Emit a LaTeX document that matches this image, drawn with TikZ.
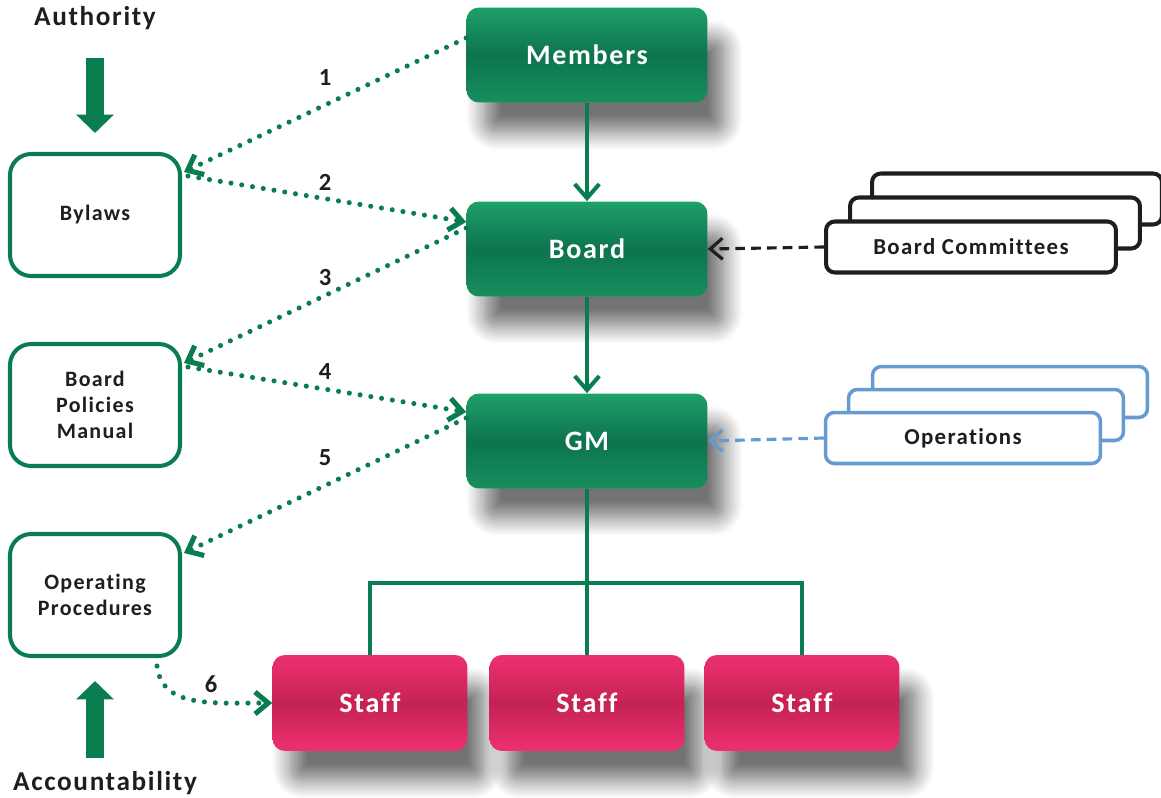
\documentclass[tikz,border=0pt]{standalone}
\usepackage{fontspec}
\setmainfont{Carlito}
\newfontfamily\spacedfont[LetterSpace=6, Ligatures=NoCommon]{Carlito}
\usetikzlibrary{arrows.meta, positioning, calc, shadows.blur}

\definecolor{darkgreen}{RGB}{10,125,80}
\definecolor{greentop}{RGB}{30,160,104}
\definecolor{greenmid}{RGB}{13,116,78}
\definecolor{pinktop}{RGB}{238,48,112}
\definecolor{pinkmid}{RGB}{196,34,84}
\definecolor{opsblue}{RGB}{102,155,210}
\definecolor{inkgray}{RGB}{30,30,30}

\tikzset{
  softshadow/.style={blur shadow={shadow xshift=0.35cm, shadow yshift=-0.6cm, shadow blur radius=0.35cm, shadow blur steps=12, shadow opacity=55}},
  gbox/.style={rounded corners=7pt, minimum width=4.82cm, minimum height=1.9cm,
    top color=greentop, bottom color=greentop!60!greenmid, middle color=greenmid,
    text=white, font=\spacedfont\bfseries\fontsize{16}{19}\selectfont, softshadow},
  pbox/.style={rounded corners=7pt, minimum width=3.9cm, minimum height=1.92cm,
    top color=pinktop, bottom color=pinktop, middle color=pinkmid,
    text=white, font=\spacedfont\bfseries\fontsize{16}{19}\selectfont, softshadow},
  sidebox/.style={draw=darkgreen, line width=2.3pt, rounded corners=12pt, fill=white,
    minimum width=3.4cm, minimum height=2.44cm, align=center, text=inkgray,
    font=\spacedfont\bfseries\fontsize{12.5}{15}\selectfont},
  stackbox/.style={draw=inkgray, line width=2.3pt, rounded corners=5pt, fill=white,
    minimum width=5.8cm, minimum height=1.02cm, text=inkgray,
    font=\spacedfont\bfseries\fontsize{13}{15}\selectfont},
  opsbox/.style={stackbox, draw=opsblue, line width=2pt, minimum width=5.5cm},
  heading/.style={text=inkgray, font=\spacedfont\bfseries\fontsize{15.5}{18}\selectfont},
  numlabel/.style={text=inkgray, font=\bfseries\fontsize{14}{16}\selectfont},
  dotlink/.style={darkgreen, line width=2.9pt, line cap=round, dash pattern=on 0pt off 6.2pt,
    -{Straight Barb[length=7.5pt, width=12.5pt]}},
  solidlink/.style={darkgreen, line width=2.3pt, -{Straight Barb[length=8pt, width=14pt]}},
  dashlink/.style={inkgray, line width=1.8pt, dash pattern=on 5.5pt off 3.5pt,
    -{Straight Barb[length=7pt, width=12pt]}},
  treeline/.style={darkgreen, line width=2.3pt},
  bigarrow/.style={darkgreen, line width=9.7pt, -{Triangle[length=10.5pt, width=21pt]}}
}

\begin{document}
\begin{tikzpicture}[x=0.02cm, y=-0.02cm]
\useasboundingbox (0,0) rectangle (1161,798);

% main chain
\node[gbox] at (587,55) (members) {Members};
\node[gbox] at (587,249) (board) {Board};
\node[gbox] at (587,441) (gm) {GM};

\node[pbox] at (370,703) (staff1) {Staff};
\node[pbox] at (587,703) (staff2) {Staff};
\node[pbox] at (802,703) (staff3) {Staff};

% documents on the left
\node[sidebox] at (95,215) (bylaws) {Bylaws};
\node[sidebox] at (95,405) (bpm) {Board\\Policies\\Manual};
\node[sidebox] at (95,595) (op) {Operating\\Procedures};

\node[heading] at (95,18) (authority) {Authority};
\node[heading] at (105,783) (accountability) {Accountability};

% stacked boxes on the right
\node[stackbox] at (1017,199) (bcback) {};
\node[stackbox] at (995,223) (bcmid) {};
\node[stackbox] at (971,247) (bcom) {Board Committees};

\node[opsbox] at (1010,392) (opsback) {};
\node[opsbox] at (986,415) (opsmid) {};
\node[opsbox] at (963,438) (ops) {Operations};

% connectors
\draw[solidlink] (members) -- (board);
\draw[solidlink] (board) -- (gm);
\draw[dashlink] (bcom.west) -- (board.east);
\draw[dashlink, opsblue] (ops.west) -- (gm.east);

\draw[treeline] (gm.south) -- ($(gm.south)+(0,94)$) coordinate (fork);
\draw[treeline] (staff1.north) |- (fork) -| (staff3.north);
\draw[treeline] (fork) -- (staff2.north);

\draw[dotlink] ($(members.west)+(0,-17)$) -- ($(bylaws.east)+(2,-43)$);
\draw[dotlink] ($(bylaws.east)+(6,-39)$) -- ($(board.west)+(0,-27)$);
\draw[dotlink] ($(board.west)+(0,-21)$) -- ($(bpm.east)+(2,-42)$);
\draw[dotlink] ($(bpm.east)+(6,-38)$) -- ($(gm.west)+(0,-29)$);
\draw[dotlink] ($(gm.west)+(0,-23)$) -- ($(op.east)+(2,-42)$);
\draw[dotlink] ($(op.south east)+(-25,8)$) .. controls ($(op.south east)+(-20,50)$) and ($(staff1.west)+(-60,0)$) .. (staff1.west);

\node[numlabel] at (325,78) (n1) {1};
\node[numlabel] at (325,182) (n2) {2};
\node[numlabel] at (325,278) (n3) {3};
\node[numlabel] at (325,372) (n4) {4};
\node[numlabel] at (325,458) (n5) {5};
\node[numlabel] at (211,684) (n6) {6};

\draw[bigarrow] ($(authority.south)+(0,22)$) -- ($(bylaws.north)+(0,-19)$);
\draw[bigarrow] ($(op.south)+(0,100)$) -- ($(op.south)+(0,23)$);

\end{tikzpicture}
\end{document}
